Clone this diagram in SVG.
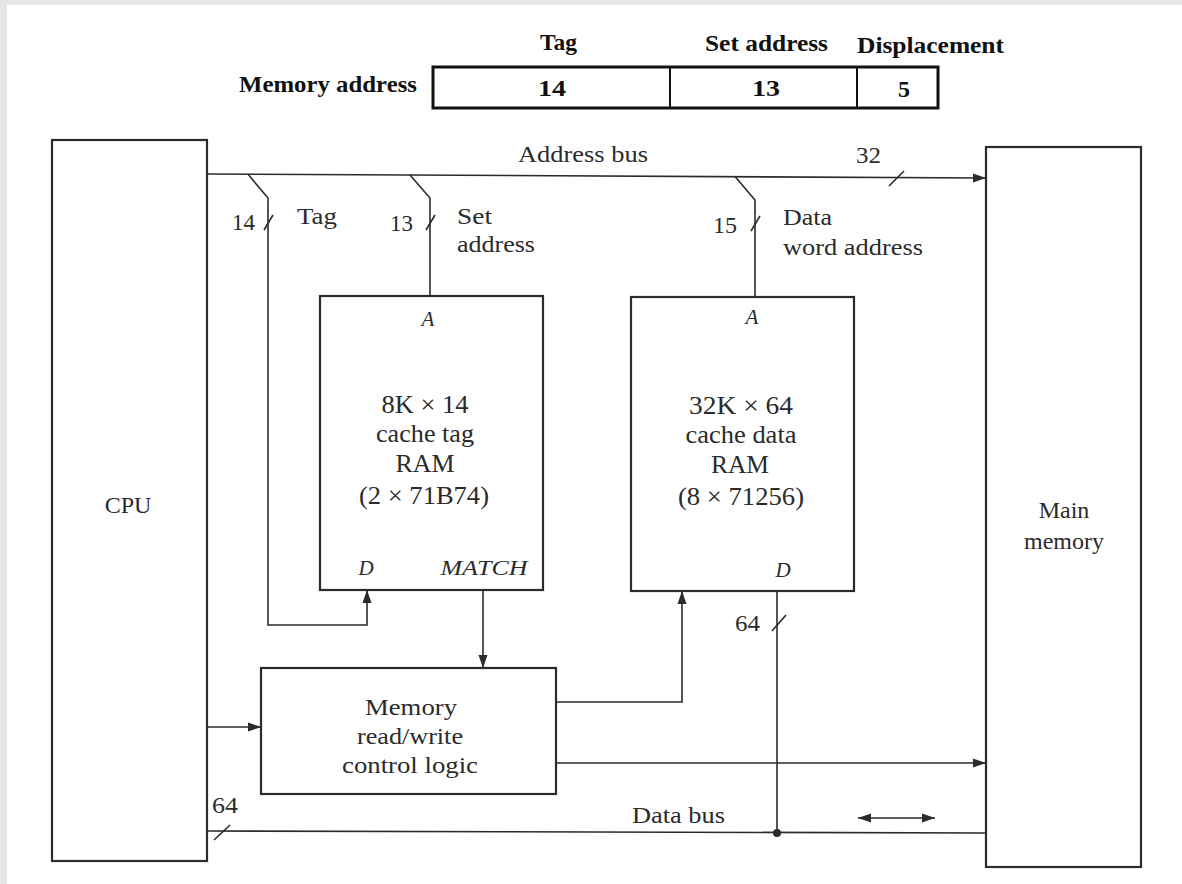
<svg xmlns="http://www.w3.org/2000/svg" width="1182" height="884" viewBox="0 0 1182 884">
<style>
  .box { fill: none; stroke: #2b2b2b; stroke-width: 2.2; }
  .ln { fill: none; stroke: #2b2b2b; stroke-width: 1.6; }
  .t { font-family: "Liberation Serif", "Times New Roman", serif; font-size: 24px; fill: #2b2b2b; }
  .big { font-family: "Liberation Serif", "Times New Roman", serif; font-size: 25px; fill: #2b2b2b; text-anchor: middle; }
  .it { font-family: "Liberation Serif", "Times New Roman", serif; font-size: 21px; font-style: italic; fill: #2b2b2b; text-anchor: middle; }
  .hb { font-family: "Liberation Serif", "Times New Roman", serif; font-size: 24px; font-weight: bold; fill: #111; text-anchor: middle; }
  .m { text-anchor: middle; }
</style>
<defs>
  <marker id="arr" markerUnits="userSpaceOnUse" markerWidth="14" markerHeight="10" refX="13" refY="5" orient="auto-start-reverse">
    <path d="M0,0.5 L13,5 L0,9.5 z" fill="#2b2b2b"/>
  </marker>
</defs>
<rect x="0" y="0" width="1182" height="884" fill="#e6e6e6"/>
<rect x="7" y="5" width="1175" height="879" fill="#ffffff"/>

<g id="memory-address-format">
  <rect x="433" y="67" width="505" height="41" fill="none" stroke="#111" stroke-width="3"/>
  <line x1="670" y1="67" x2="670" y2="108" stroke="#111" stroke-width="2"/>
  <line x1="857" y1="67" x2="857" y2="108" stroke="#111" stroke-width="2"/>
  <text class="hb" x="558.5" y="50" textLength="37" lengthAdjust="spacingAndGlyphs">Tag</text>
  <text class="hb" x="766.5" y="51" textLength="123" lengthAdjust="spacingAndGlyphs">Set address</text>
  <text class="hb" x="930.5" y="53" textLength="147" lengthAdjust="spacingAndGlyphs">Displacement</text>
  <text class="hb" x="328" y="92" textLength="178" lengthAdjust="spacingAndGlyphs">Memory address</text>
  <text class="hb" x="552" y="96" textLength="28" lengthAdjust="spacingAndGlyphs">14</text>
  <text class="hb" x="766" y="96" textLength="28" lengthAdjust="spacingAndGlyphs">13</text>
  <text class="hb" x="904" y="97">5</text>
</g>

<g id="cpu">
  <rect class="box" x="52" y="140" width="155" height="721"/>
  <text class="t m" x="128" y="513">CPU</text>
</g>

<g id="main-memory">
  <rect class="box" x="986" y="147" width="155" height="720"/>
  <text class="t m" x="1064" y="518">Main</text>
  <text class="t m" x="1064" y="549">memory</text>
</g>

<g id="tag-ram">
  <rect class="box" x="320" y="296" width="223" height="294"/>
  <text class="it" x="428" y="326">A</text>
  <text class="big" x="425" y="413" textLength="87" lengthAdjust="spacingAndGlyphs">8K × 14</text>
  <text class="big" x="425" y="442" textLength="98" lengthAdjust="spacingAndGlyphs">cache tag</text>
  <text class="big" x="425" y="472" textLength="59" lengthAdjust="spacingAndGlyphs">RAM</text>
  <text class="big" x="424" y="504" textLength="130" lengthAdjust="spacingAndGlyphs">(2 × 71B74)</text>
  <text class="it" x="366" y="575">D</text>
  <text class="it" x="484" y="575" textLength="87" lengthAdjust="spacingAndGlyphs">MATCH</text>
</g>

<g id="data-ram">
  <rect class="box" x="631" y="297" width="223" height="294"/>
  <text class="it" x="752" y="324">A</text>
  <text class="big" x="741" y="414" textLength="104" lengthAdjust="spacingAndGlyphs">32K × 64</text>
  <text class="big" x="741" y="443" textLength="111" lengthAdjust="spacingAndGlyphs">cache data</text>
  <text class="big" x="740" y="473" textLength="58" lengthAdjust="spacingAndGlyphs">RAM</text>
  <text class="big" x="741" y="505" textLength="126" lengthAdjust="spacingAndGlyphs">(8 × 71256)</text>
  <text class="it" x="783" y="577">D</text>
</g>

<g id="control-logic">
  <rect class="box" x="261" y="668" width="295" height="126"/>
  <text class="t m" x="411" y="715" textLength="92" lengthAdjust="spacingAndGlyphs">Memory</text>
  <text class="t m" x="410" y="744" textLength="106" lengthAdjust="spacingAndGlyphs">read/write</text>
  <text class="t m" x="410" y="773" textLength="136" lengthAdjust="spacingAndGlyphs">control logic</text>
</g>

<g id="connectors">
  <path class="ln" d="M207,174 L986,178" marker-end="url(#arr)"/>
  <path class="ln" d="M248,174.3 L268,198 L268,625 L367,625 L367,590" marker-end="url(#arr)"/>
  <path class="ln" d="M410,175 L430,198 L430,296"/>
  <path class="ln" d="M735,176.6 L755,200 L755,297"/>
  <path class="ln" d="M483,590 L483,668" marker-end="url(#arr)"/>
  <path class="ln" d="M207,727 L261,727" marker-end="url(#arr)"/>
  <path class="ln" d="M556,702 L682,702 L682,591" marker-end="url(#arr)"/>
  <path class="ln" d="M556,763 L986,763" marker-end="url(#arr)"/>
  <path class="ln" d="M777,591 L777,833"/>
  <path class="ln" d="M207,831 L986,833"/>
  <circle cx="777" cy="833" r="4" fill="#2b2b2b"/>
  <path class="ln" d="M858,818 L935,818" marker-start="url(#arr)" marker-end="url(#arr)"/>
  <path class="ln" d="M889,186 L904,171"/>
  <path class="ln" d="M264,230 L273,215"/>
  <path class="ln" d="M426,230 L435,215"/>
  <path class="ln" d="M751,231 L760,216"/>
  <path class="ln" d="M772,631 L786,615"/>
  <path class="ln" d="M214,840 L230,825"/>
</g>

<g id="labels">
  <text class="t" x="518" y="162" textLength="130" lengthAdjust="spacingAndGlyphs">Address bus</text>
  <text class="t" x="856" y="163" textLength="25" lengthAdjust="spacingAndGlyphs">32</text>
  <text class="t" x="232" y="230" textLength="23" lengthAdjust="spacingAndGlyphs">14</text>
  <text class="t" x="297" y="224" textLength="40" lengthAdjust="spacingAndGlyphs">Tag</text>
  <text class="t" x="390" y="231" textLength="23" lengthAdjust="spacingAndGlyphs">13</text>
  <text class="t" x="457" y="224" textLength="35" lengthAdjust="spacingAndGlyphs">Set</text>
  <text class="t" x="457" y="252" textLength="78" lengthAdjust="spacingAndGlyphs">address</text>
  <text class="t" x="713" y="233" textLength="24" lengthAdjust="spacingAndGlyphs">15</text>
  <text class="t" x="783" y="225" textLength="49" lengthAdjust="spacingAndGlyphs">Data</text>
  <text class="t" x="783" y="255" textLength="140" lengthAdjust="spacingAndGlyphs">word address</text>
  <text class="t" x="735" y="631" textLength="25" lengthAdjust="spacingAndGlyphs">64</text>
  <text class="t" x="632" y="823" textLength="93" lengthAdjust="spacingAndGlyphs">Data bus</text>
  <text class="t" x="212" y="813" textLength="26" lengthAdjust="spacingAndGlyphs">64</text>
</g>
</svg>
